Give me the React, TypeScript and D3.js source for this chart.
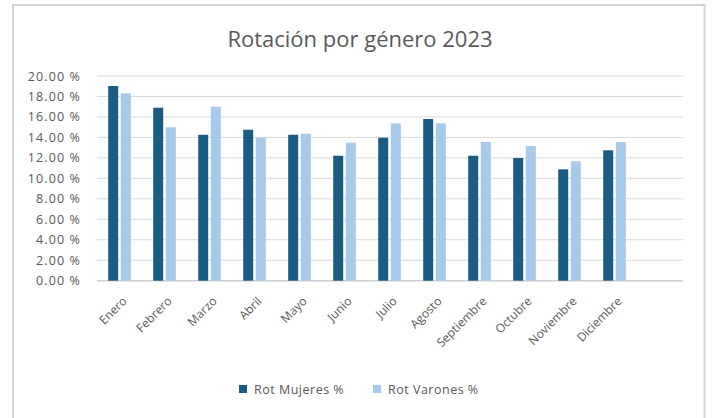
import React from "react";
import * as d3 from "d3";

const months = ["Enero","Febrero","Marzo","Abril","Mayo","Junio","Julio","Agosto","Septiembre","Octubre","Noviembre","Diciembre",""];
const mujeres = [19.02,16.9,14.26,14.75,14.26,12.21,13.97,15.8,12.21,11.99,10.88,12.74];
const varones = [18.31,14.99,17.0,13.97,14.36,13.48,15.38,15.38,13.55,13.16,11.67,13.55];
const yTicks = [0,2,4,6,8,10,12,14,16,18,20];
const seriesNames = ["Rot Mujeres %","Rot Varones %"];
const colors = ["#1b5c84","#a7c9ea"];
const title = "Rotación por género 2023";

const W = 715, H = 418;
const FONT = "'Open Sans', Lato, sans-serif";

export default function App() {
  const x = d3.scaleBand<string>().domain(months).range([97, 682]).paddingInner(0).paddingOuter(0);
  const y = d3.scaleLinear().domain([0, 20]).range([280.7, 76]);
  const barW = 10;
  const gap = 2.6;
  const series = [mujeres, varones];
  return (
    <svg width={W} height={H} style={{ position: "absolute", left: 0, top: 0, background: "#fff" }} fontFamily={FONT}>
      <rect x={13} y={5} width={691.5} height={H + 10} fill="#fff" stroke="#d4d4d4" strokeWidth={2} />
      <text x={360} y={46.5} textAnchor="middle" fontSize={22} fill="#595959">{title}</text>
      {yTicks.map(t => (
        <g key={t}>
          <line x1={97} x2={683} y1={y(t)} y2={y(t)} stroke={t === 0 ? "#d0d0d0" : "#d9d9d9"} strokeWidth={t === 0 ? 1.5 : 1} />
          <text x={81} y={y(t) + 4.5} textAnchor="end" fontSize={12.5} letterSpacing={1.1} fill="#595959">{t.toFixed(2) + " %"}</text>
        </g>
      ))}
      {series.map((vals, si) => vals.map((v, i) => {
        const cx = (x(months[i]) as number) + x.bandwidth() / 2;
        const bx = si === 0 ? cx - gap / 2 - barW : cx + gap / 2;
        return <rect key={si + "-" + i} x={bx} y={y(v)} width={barW} height={y(0) - y(v)} fill={colors[si]} />;
      }))}
      {months.filter(m => m !== "").map(m => {
        const cx = (x(m) as number) + x.bandwidth() / 2 + 8;
        return (
          <text key={m} transform={`translate(${cx},${302}) rotate(-45)`} textAnchor="end" fontSize={12} fill="#595959">{m}</text>
        );
      })}
      {seriesNames.map((n, i) => {
        const lx = i === 0 ? 239 : 373;
        return (
          <g key={n}>
            <rect x={lx} y={385} width={8} height={8} fill={colors[i]} />
            <text x={lx + 15} y={393.5} fontSize={12.5} letterSpacing={0.5} fill="#595959">{n}</text>
          </g>
        );
      })}
    </svg>
  );
}
